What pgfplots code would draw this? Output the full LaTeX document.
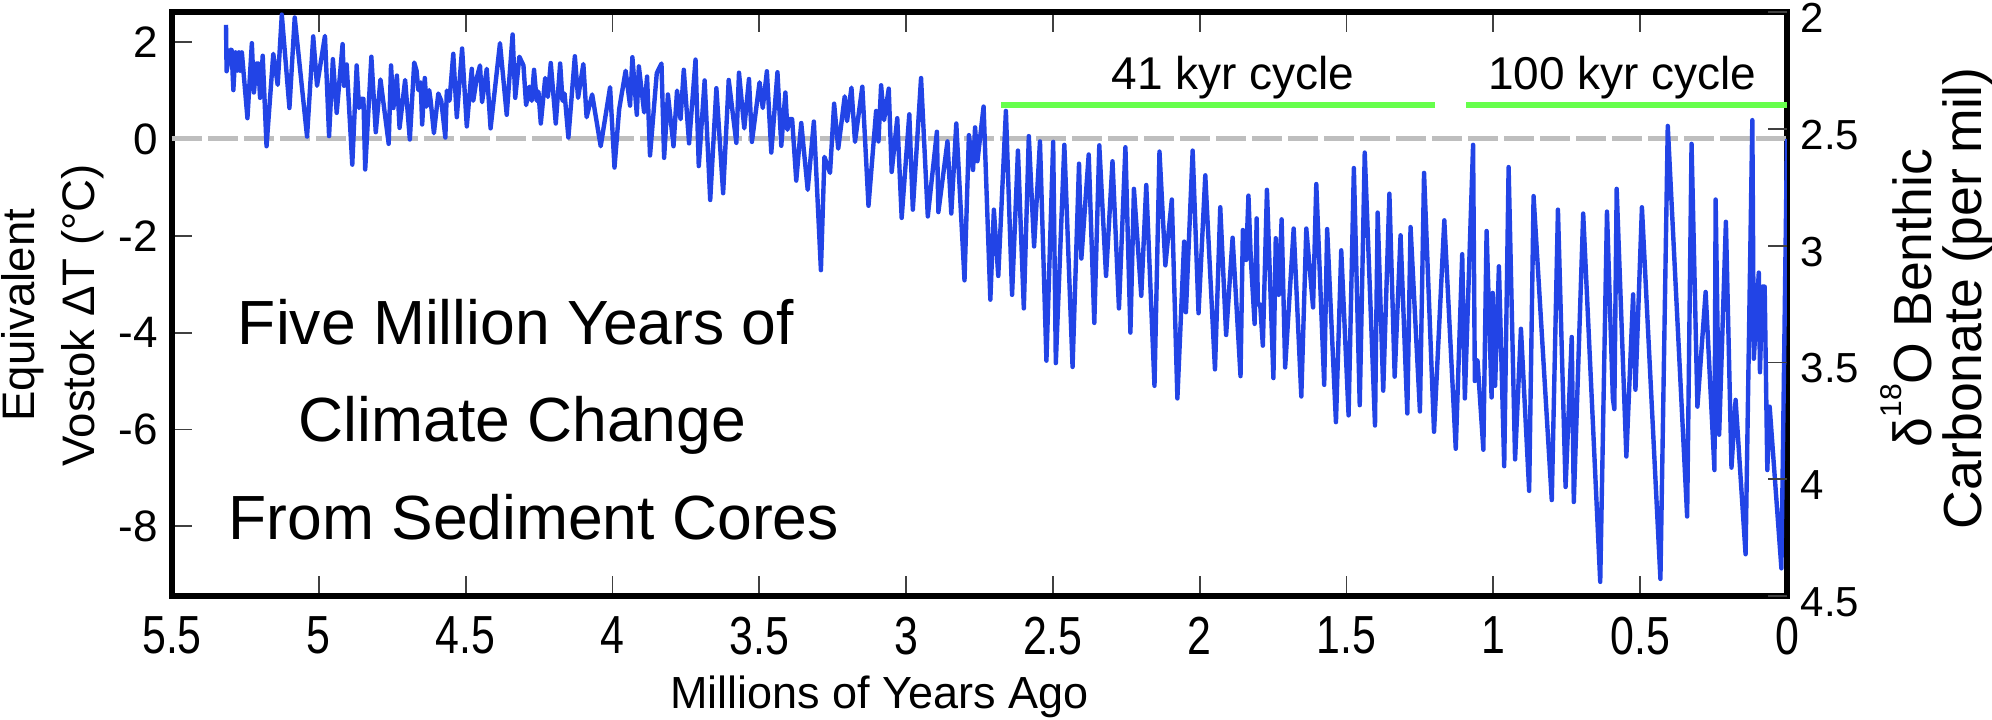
\documentclass[border=0pt]{standalone}
\usepackage{fontspec}
\setmainfont{Liberation Sans}
\newfontfamily\narrowsans[FakeStretch=0.8]{Liberation Sans}
\usepackage{pgfplots}
\pgfplotsset{compat=1.18}
\usepackage{pgfplotstable}

\definecolor{traceblue}{RGB}{34,68,230}
\definecolor{cyclegreen}{RGB}{102,255,76}
\definecolor{zerogray}{RGB}{190,190,190}

% age (Myr ago) vs equivalent Vostok dT
\pgfplotstableread{
age dT
5.316 2.36
5.314 1.40
5.302 1.84
5.297 1.84
5.291 1.01
5.284 1.79
5.277 1.41
5.272 1.79
5.268 1.41
5.262 1.79
5.243 0.43
5.228 1.98
5.221 0.96
5.212 1.56
5.206 1.56
5.200 0.85
5.191 1.72
5.178 -0.15
5.155 1.76
5.140 1.12
5.126 2.57
5.100 0.64
5.082 2.51
5.040 0.05
5.019 2.12
5.006 1.10
4.979 2.13
4.965 0.06
4.952 1.65
4.939 0.54
4.919 1.96
4.914 1.10
4.905 1.54
4.886 -0.53
4.871 1.52
4.863 0.64
4.855 0.83
4.848 0.83
4.842 -0.63
4.821 1.70
4.806 0.14
4.790 1.23
4.762 -0.10
4.754 1.52
4.746 0.64
4.734 1.31
4.725 0.23
4.706 1.22
4.690 -0.01
4.675 1.58
4.667 1.41
4.661 1.01
4.653 1.17
4.648 0.30
4.639 1.26
4.633 0.67
4.624 1.01
4.619 0.79
4.608 0.12
4.593 0.94
4.583 0.79
4.569 0.03
4.564 1.00
4.555 0.79
4.542 1.76
4.530 0.45
4.512 1.87
4.496 0.26
4.479 1.45
4.474 0.79
4.462 1.26
4.451 1.52
4.444 0.76
4.428 1.45
4.415 0.22
4.383 1.98
4.360 0.50
4.340 2.16
4.331 0.85
4.317 1.70
4.303 1.52
4.294 0.70
4.283 1.08
4.275 0.79
4.267 1.43
4.258 0.79
4.252 0.98
4.244 0.32
4.229 1.26
4.220 0.87
4.210 1.57
4.193 0.32
4.178 1.56
4.170 0.79
4.163 0.94
4.150 0.03
4.128 1.71
4.117 0.85
4.099 1.55
4.088 0.45
4.069 0.92
4.040 -0.15
4.008 1.07
3.993 -0.59
3.977 0.62
3.955 1.41
3.940 0.69
3.932 1.69
3.917 0.50
3.910 1.50
3.892 0.55
3.882 1.29
3.872 -0.34
3.849 1.36
3.833 1.56
3.824 -0.39
3.811 0.92
3.792 -0.15
3.780 1.00
3.768 0.41
3.757 1.43
3.739 -0.09
3.717 1.64
3.706 -0.56
3.686 1.21
3.667 -1.26
3.646 1.05
3.623 -1.12
3.604 1.22
3.578 -0.08
3.569 1.37
3.551 0.22
3.535 1.24
3.525 -0.06
3.499 1.17
3.488 0.64
3.474 1.40
3.459 -0.28
3.438 1.38
3.425 -0.14
3.411 0.96
3.404 0.19
3.397 0.41
3.388 0.41
3.374 -0.86
3.357 0.33
3.335 -1.05
3.314 0.36
3.290 -2.71
3.278 -0.37
3.259 -0.70
3.245 0.73
3.231 -0.20
3.209 0.88
3.201 0.37
3.186 1.06
3.174 -0.06
3.149 1.08
3.128 -1.38
3.102 0.58
3.094 -0.05
3.085 1.11
3.075 0.39
3.059 1.04
3.049 -0.68
3.030 0.43
3.015 -1.63
2.989 0.51
2.977 -1.46
2.949 1.26
2.926 -1.60
2.895 0.15
2.890 -1.51
2.859 -0.05
2.846 -1.54
2.829 0.32
2.801 -2.92
2.786 0.08
2.772 -0.64
2.765 0.24
2.757 -0.46
2.736 0.67
2.713 -3.32
2.701 -1.46
2.686 -2.83
2.660 0.58
2.639 -3.22
2.619 -0.24
2.599 -3.50
2.582 0.06
2.564 -2.22
2.544 -0.05
2.522 -4.58
2.499 -0.06
2.490 -4.63
2.461 -0.12
2.433 -4.71
2.411 -0.51
2.403 -2.47
2.378 -0.32
2.359 -3.80
2.342 -0.13
2.319 -2.83
2.297 -0.46
2.275 -3.50
2.253 -0.17
2.236 -4.00
2.224 -1.03
2.199 -3.24
2.182 -0.95
2.154 -5.10
2.137 -0.26
2.117 -2.61
2.095 -1.25
2.076 -5.36
2.053 -2.12
2.047 -3.58
2.024 -0.24
2.004 -3.60
1.981 -0.75
1.948 -4.76
1.930 -1.41
1.910 -4.05
1.888 -2.04
1.861 -4.90
1.853 -1.88
1.842 -2.50
1.834 -1.17
1.826 -2.47
1.813 -3.82
1.806 -1.64
1.802 -3.42
1.794 -3.42
1.785 -4.27
1.771 -1.05
1.749 -4.94
1.741 -2.05
1.731 -3.22
1.721 -1.66
1.709 -4.72
1.680 -1.85
1.654 -5.32
1.637 -1.85
1.614 -3.48
1.603 -0.93
1.576 -5.08
1.566 -1.86
1.536 -5.85
1.518 -2.30
1.493 -5.71
1.475 -0.60
1.455 -5.50
1.438 -0.28
1.403 -5.92
1.394 -1.52
1.375 -5.20
1.354 -1.13
1.336 -4.91
1.316 -1.99
1.293 -5.67
1.282 -1.82
1.250 -5.63
1.236 -0.70
1.202 -6.05
1.167 -1.68
1.128 -6.40
1.106 -2.38
1.097 -5.36
1.069 -0.12
1.063 -5.00
1.054 -4.57
1.034 -6.42
1.023 -1.90
1.006 -5.34
1.002 -3.18
0.994 -5.10
0.981 -2.63
0.963 -6.76
0.948 -0.58
0.926 -6.62
0.906 -3.92
0.878 -7.27
0.863 -1.18
0.801 -7.46
0.780 -1.46
0.754 -7.19
0.733 -4.09
0.726 -7.50
0.694 -1.54
0.636 -9.15
0.613 -1.50
0.593 -5.36
0.588 -5.58
0.580 -1.03
0.547 -6.56
0.524 -3.21
0.516 -5.18
0.494 -1.41
0.431 -9.09
0.406 0.27
0.340 -7.80
0.325 -0.10
0.305 -5.53
0.277 -3.16
0.247 -6.84
0.243 -1.25
0.231 -6.11
0.208 -1.71
0.189 -6.79
0.175 -5.39
0.141 -8.58
0.118 0.39
0.113 -4.54
0.096 -2.76
0.092 -4.82
0.084 -3.05
0.076 -3.05
0.067 -6.84
0.059 -5.53
0.019 -8.87
0.000 0.00
}\vostok

\pgfplotsset{
  boxaxis/.style={
    at={(43pt,30.75pt)}, anchor=south west,
    scale only axis, width=403.75pt, height=146pt,
    xmin=0, xmax=5.5, x dir=reverse,
    tick align=inside,
    tick style={line width=0.45pt, color=black!75},
  },
}

\begin{document}
\begin{tikzpicture}
\useasboundingbox (0,0) rectangle (498pt,179.75pt);
\begin{axis}[
  boxaxis,
  ymin=-9.442, ymax=2.624,
  axis line style={line width=1.4pt},
  major tick length=5pt,
  xtick={0,0.5,1,1.5,2,2.5,3,3.5,4,4.5,5,5.5},
  xticklabels={0,0.5,1,1.5,2,2.5,3,3.5,4,4.5,5,5.5},
  ytick={-8,-6,-4,-2,0,2},
  yticklabels={-8,-6,-4,-2,0,2},
  xtick pos=both, xticklabel pos=lower, ytick pos=left,
  xticklabel style={font=\narrowsans\fontsize{13.4}{14}\selectfont, inner sep=0pt, yshift=-5pt},
  yticklabel style={font=\fontsize{11}{12}\selectfont, inner sep=0pt, xshift=-3.4pt},
  xlabel={Millions of Years Ago},
  xlabel style={at={(axis description cs:0.438,-0.192)}, anchor=base, inner sep=0pt,
    font=\fontsize{11.25}{12}\selectfont},
  ylabel={Equivalent\\Vostok ΔT (°C)},
  ylabel style={at={(axis description cs:-0.0737,0.481)}, anchor=center, align=center,
    inner sep=0pt, font=\fontsize{11.4}{15}\selectfont},
]
\addplot[zerogray, line width=1.25pt, dash pattern=on 7.5pt off 1.5pt] coordinates {(5.5,0) (0,0)};
\addplot[traceblue, line width=1.1pt, line join=round] table[x=age, y=dT] {\vostok};
\addplot[cyclegreen, line width=1.45pt] coordinates {(2.676,0.71) (1.20,0.71)};
\addplot[cyclegreen, line width=1.45pt] coordinates {(1.093,0.71) (0,0.71)};

\node[anchor=base, font=\fontsize{11.5}{12}\selectfont] at (rel axis cs:0.657,0.868) {41 kyr cycle};
\node[anchor=base, font=\fontsize{11.5}{12}\selectfont] at (rel axis cs:0.898,0.868) {100 kyr cycle};

\node[anchor=base, font=\fontsize{15.6}{18}\selectfont] at (rel axis cs:0.213,0.4315) {Five Million Years of};
\node[anchor=base, font=\fontsize{15.6}{18}\selectfont] at (rel axis cs:0.217,0.2637) {Climate Change};
\node[anchor=base, font=\fontsize{15.6}{18}\selectfont] at (rel axis cs:0.224,0.0959) {From Sediment Cores};
\end{axis}

\begin{axis}[
  boxaxis,
  ymin=2, ymax=4.5, y dir=reverse,
  hide x axis,
  axis line style={draw=none},
  major tick length=4.75pt,
  ytick={2,2.5,3,3.5,4,4.5},
  yticklabels={2,2.5,3,3.5,4,4.5},
  ytick pos=right, yticklabel pos=right,
  yticklabel style={font=\fontsize{10.5}{12}\selectfont, inner sep=0pt, xshift=3.25pt, yshift=-1.5pt},
  ylabel={δ\raisebox{7.5pt}{\fontsize{7.5}{8}\selectfont 18}O Benthic\\Carbonate (per mil)},
  ylabel style={at={(axis description cs:1.0927,0.510)}, anchor=center, align=center,
    rotate=0, inner sep=0pt, font=\fontsize{13.4}{12.5}\selectfont},
]
\end{axis}
\end{tikzpicture}
\end{document}
